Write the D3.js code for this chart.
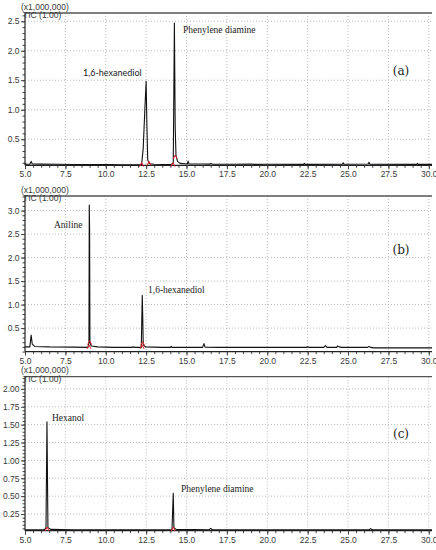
<!DOCTYPE html>
<html><head><meta charset="utf-8">
<script src="https://cdn.jsdelivr.net/npm/d3@7"></script>
<style>body{margin:0;background:#fff}svg{display:block}</style>
</head><body>
<svg id="c" width="436" height="550"></svg>
<script>
// ---- data ----
const xTicks = [5.0, 7.5, 10.0, 12.5, 15.0, 17.5, 20.0, 22.5, 25.0, 27.5, 30.0];
const yTicksA = [0.5, 1.0, 1.5, 2.0, 2.5];
const yTicksB = [0.5, 1.0, 1.5, 2.0, 2.5, 3.0];
const yTicksC = [0.25, 0.50, 0.75, 1.00, 1.25, 1.50, 1.75, 2.00];
const seriesA = [[5.0,0.10],[5.03,0.075],[5.3,0.075],[5.38,0.125],[5.45,0.08],[6.0,0.078],[7.0,0.075],[8.0,0.072],[9.0,0.07],[10.0,0.07],[11.0,0.068],[12.0,0.066],[12.22,0.07],[12.32,0.35],[12.42,1.0],[12.5,1.48],[12.55,0.7],[12.6,0.15],[12.7,0.085],[13.0,0.075],[14.0,0.07],[14.18,0.09],[14.25,2.47],[14.3,0.7],[14.35,0.22],[14.45,0.12],[14.6,0.09],[15.05,0.08],[15.1,0.13],[15.15,0.082],[16.0,0.08],[16.45,0.078],[16.5,0.09],[16.6,0.078],[18.0,0.076],[19.0,0.08],[19.2,0.074],[20.0,0.075],[22.25,0.074],[22.3,0.09],[22.35,0.074],[24.65,0.075],[24.7,0.1],[24.75,0.077],[26.25,0.08],[26.3,0.11],[26.35,0.078],[29.25,0.074],[29.3,0.09],[29.35,0.074],[30.2,0.074]];
const seriesB = [[5.0,0.1],[5.3,0.1],[5.38,0.35],[5.45,0.16],[5.6,0.11],[6.5,0.1],[8.0,0.095],[8.9,0.09],[8.96,0.2],[8.98,3.12],[9.0,2.6],[9.02,0.2],[9.1,0.12],[9.5,0.1],[10.5,0.09],[11.6,0.09],[11.7,0.1],[11.8,0.09],[12.2,0.09],[12.26,1.2],[12.29,0.73],[12.32,0.15],[12.45,0.1],[13.5,0.09],[14.0,0.09],[14.05,0.11],[14.1,0.09],[15.0,0.09],[16.0,0.09],[16.08,0.17],[16.15,0.095],[17.0,0.09],[20.0,0.09],[22.4,0.09],[22.5,0.1],[22.6,0.09],[23.5,0.09],[23.6,0.13],[23.7,0.09],[24.3,0.09],[24.35,0.12],[24.45,0.1],[24.6,0.09],[26.2,0.09],[26.3,0.11],[26.4,0.09],[26.6,0.08],[30.2,0.08]];
const seriesC = [[5.0,0.03],[6.2,0.03],[6.3,0.06],[6.36,1.54],[6.39,0.8],[6.42,0.06],[6.6,0.035],[8.0,0.03],[10.0,0.028],[14.1,0.03],[14.18,0.54],[14.22,0.06],[14.35,0.035],[16.4,0.03],[16.5,0.05],[16.6,0.03],[26.3,0.03],[26.4,0.045],[26.5,0.03],[30.2,0.03]];
const marksA = [[12.22,0.07],[12.68,0.09],[14.16,0.07],[14.3,0.2]];
const marksB = [[8.96,0.1],[9.0,0.19],[12.25,0.1],[12.28,0.17]];
const marksC = [[6.37,0.04],[14.18,0.04]];
const labelsA = ["1,6-hexanediol", "Phenylene diamine"];
const labelsB = ["Aniline", "1,6-hexanediol"];
const labelsC = ["Hexanol", "Phenylene diamine"];
const panelIds = ["(a)", "(b)", "(c)"];

// ---- layout ----
const svg = d3.select("#c");
const X0 = 25, X1 = 432;
const panels = [
  {top:13, bottom:165.3, dom:[0.058,2.64], ticks:yTicksA, minor:0.1, fmt:".1f", data:seriesA, marks:marksA, id:panelIds[0],
   labels:[{t:labelsA[0], x:83, y:76, sans:true},{t:labelsA[1], x:183, y:33}], idPos:[401,75]},
  {top:196, bottom:351.6, dom:[0.0,3.31], ticks:yTicksB, minor:0.1, fmt:".1f", data:seriesB, marks:marksB, id:panelIds[1],
   labels:[{t:labelsB[0], x:54, y:228},{t:labelsB[1], x:148, y:293}], idPos:[401,254]},
  {top:376.7, bottom:530.7, dom:[0.017,2.17], ticks:yTicksC, minor:0.05, fmt:".2f", data:seriesC, marks:marksC, id:panelIds[2],
   labels:[{t:labelsC[0], x:52, y:421},{t:labelsC[1], x:181, y:492}], idPos:[401,438]}
];

panels.forEach(p => {
  const x = d3.scaleLinear().domain([5, 30.2]).range([X0, X1]);
  const y = d3.scaleLinear().domain(p.dom).range([p.bottom, p.top]);
  const g = svg.append("g");

  // grid
  g.append("g").selectAll("line").data(xTicks.slice(1)).join("line")
    .attr("x1", d => x(d)).attr("x2", d => x(d)).attr("y1", p.top).attr("y2", p.bottom)
    .attr("stroke", "#a8a8a8").attr("stroke-width", 0.8).attr("stroke-dasharray", "1,2");
  g.append("g").selectAll("line").data(p.ticks).join("line")
    .attr("x1", X0).attr("x2", X1).attr("y1", d => y(d)).attr("y2", d => y(d))
    .attr("stroke", "#a8a8a8").attr("stroke-width", 0.8).attr("stroke-dasharray", "1,2");

  // x axis minor + major
  const xMinor = d3.range(5, 30.01, 0.5);
  const xa = g.append("g").attr("transform", `translate(0,${p.bottom})`);
  xa.call(d3.axisBottom(x).tickValues(xMinor).tickSize(2.5).tickFormat(""));
  xa.select(".domain").remove();
  xa.selectAll("line").attr("stroke", "#444");
  const xb = g.append("g").attr("transform", `translate(0,${p.bottom})`);
  xb.call(d3.axisBottom(x).tickValues(xTicks).tickSize(4).tickPadding(2).tickFormat(d3.format(".1f")));
  xb.select(".domain").attr("d", `M${X0},0H${X1}`).attr("stroke", "#222").attr("stroke-width", 1.2);
  xb.selectAll("line").attr("stroke", "#444");
  xb.selectAll("text").attr("font-family", "Liberation Sans, Arial, sans-serif").attr("font-size", 8.5).attr("fill", "#3a3a3a");

  // y axis
  const yMinor = d3.range(Math.ceil(p.dom[0]/p.minor)*p.minor, p.dom[1], p.minor);
  const ya = g.append("g").attr("transform", `translate(${X0},0)`);
  ya.call(d3.axisLeft(y).tickValues(yMinor).tickSize(2.5).tickFormat(""));
  ya.select(".domain").remove();
  ya.selectAll("line").attr("stroke", "#444");
  const yb = g.append("g").attr("transform", `translate(${X0},0)`);
  yb.call(d3.axisLeft(y).tickValues(p.ticks).tickSize(4).tickPadding(1.5).tickFormat(d3.format(p.fmt)));
  yb.select(".domain").attr("d", `M0,${p.bottom}V${p.top}`).attr("stroke", "#222").attr("stroke-width", 1.2);
  yb.selectAll("line").attr("stroke", "#444");
  yb.selectAll("text").attr("font-family", "Liberation Sans, Arial, sans-serif").attr("font-size", 8.5).attr("fill", "#3a3a3a");

  // top border
  g.append("line").attr("x1", X0).attr("x2", X1).attr("y1", p.top).attr("y2", p.top)
    .attr("stroke", "#555").attr("stroke-width", 1.3);

  // header texts
  g.append("text").attr("x", 21).attr("y", p.top - 3.5).text("(x1,000,000)")
    .attr("font-family", "Liberation Sans, Arial, sans-serif").attr("font-size", 8.5).attr("fill", "#3a3a3a");
  g.append("text").attr("x", 23).attr("y", p.top + 5).text("TIC (1.00)")
    .attr("font-family", "Liberation Sans, Arial, sans-serif").attr("font-size", 8.5).attr("fill", "#3a3a3a");

  // signal
  const line = d3.line().x(d => x(d[0])).y(d => y(d[1]));
  g.append("path").datum(p.data).attr("d", line).attr("fill", "none")
    .attr("stroke", "#111").attr("stroke-width", 1.1).attr("stroke-linejoin", "round");

  // red integration marks
  g.append("g").selectAll("path").data(p.marks).join("path")
    .attr("d", d => { const cx = x(d[0]), cy = y(d[1]); return `M${cx-2},${cy+2}L${cx},${cy-2}L${cx+2},${cy+2}`; })
    .attr("fill", "none").attr("stroke", "#e0202a").attr("stroke-width", 1);

  // peak labels
  p.labels.forEach(l => {
    g.append("text").attr("x", l.x).attr("y", l.y).text(l.t)
      .attr("font-family", l.sans ? "Lato, sans-serif" : "Liberation Serif, serif")
      .attr("font-size", l.sans ? 9 : 9.5).attr("fill", "#222");
  });

  // panel id
  g.append("text").attr("x", p.idPos[0]).attr("y", p.idPos[1]).attr("text-anchor", "middle")
    .text(p.id).attr("font-family", "DejaVu Serif, serif").attr("font-size", 12).attr("fill", "#222");
});
</script>
</body></html>
